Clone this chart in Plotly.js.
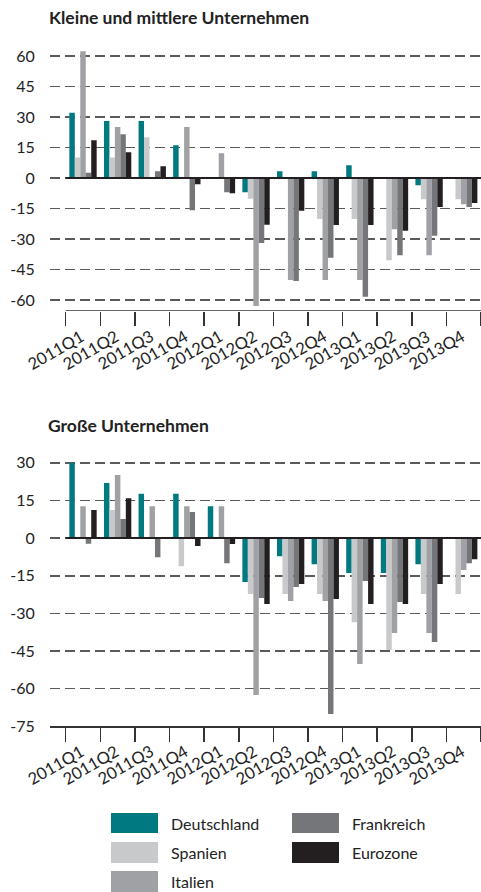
<!DOCTYPE html>
<html>
<head>
<meta charset="utf-8">
<script src="https://cdn.plot.ly/plotly-3.0.1.min.js"></script>
<style>html,body{margin:0;padding:0;background:#fff;}#chart{width:481px;height:892px;}</style>
</head>
<body>
<div id="chart"></div>
<script>
// ---- data ----
var quarters = ['2011Q1','2011Q2','2011Q3','2011Q4','2012Q1','2012Q2','2012Q3','2012Q4','2013Q1','2013Q2','2013Q3','2013Q4'];
var seriesNames = ['Deutschland','Spanien','Italien','Frankreich','Eurozone'];

// Kleine und mittlere Unternehmen
var kmuDeutschland = [32, 28, 28, 16, 0, -7, 3.3, 3.3, 6.2, 0, -3.6, 0];
var kmuSpanien     = [10, 10, 20, 0, 0, -10.3, 0, -20.2, -20.2, -40.5, -10.5, -10.5];
var kmuItalien     = [62.3, 25, 0, 25, 12.1, -63, -50.2, -50.2, -50.2, -25.2, -38, -13];
var kmuFrankreich  = [2.5, 21.5, 3.3, -15.9, -7, -32, -50.7, -39.3, -58.5, -38, -28.5, -14.3];
var kmuEurozone    = [18.5, 12.6, 5.7, -3.1, -7.5, -23, -16.2, -23.1, -23.1, -26, -14.3, -12.3];

// Große Unternehmen
var guDeutschland = [30, 21.9, 17.7, 17.7, 12.7, -17.5, -7.2, -10.4, -13.9, -13.9, -10.4, 0];
var guSpanien     = [0, 11.2, 0, -11.2, 0, -22.3, -22.3, -22.3, -33.5, -44.6, -22.3, -22.3];
var guItalien     = [12.7, 25.1, 12.7, 12.7, 12.7, -62.5, -25.1, -25.1, -50.2, -37.8, -37.8, -12.7];
var guFrankreich  = [-2.3, 7.6, -7.6, 10.4, -10, -23.9, -19.5, -70.1, -17.1, -25.5, -41.4, -10];
var guEurozone    = [11.2, 15.9, 0, -3.2, -2.4, -26.3, -18.3, -24.3, -26.3, -26.3, -18.3, -8.4];

// tick labels
var kmuTickVals = [60, 45, 30, 15, 0, -15, -30, -45, -60];
var kmuTickText = ['60', '45', '30', '15', '0', '-15', '-30', '-45', '-60'];
var guTickVals = [30, 15, 0, -15, -30, -45, -60, -75];
var guTickText = ['30', '15', '0', '-15', '-30', '-45', '-60', '-75'];

var titles = ['Kleine und mittlere Unternehmen', 'Große Unternehmen'];

// ---- styles ----
var colors = ['#007a80', '#c8c9cb', '#a0a1a4', '#757679', '#231f20'];
var FONT = 'Lato, "Open Sans", sans-serif';
var W = 481, H = 892, ML = 50;
function px2x(px) { return (px - ML) / (W - ML); }
function py2y(py) { return 1 - py / H; }

var kmuData = [kmuDeutschland, kmuSpanien, kmuItalien, kmuFrankreich, kmuEurozone];
var guData = [guDeutschland, guSpanien, guItalien, guFrankreich, guEurozone];

var traces = [];
seriesNames.forEach(function (name, i) {
  traces.push({ type: 'bar', name: name, x: quarters, y: kmuData[i], xaxis: 'x', yaxis: 'y',
    marker: { color: colors[i], line: { width: 0 } }, hoverinfo: 'x+y+name' });
});
seriesNames.forEach(function (name, i) {
  traces.push({ type: 'bar', name: name, x: quarters, y: guData[i], xaxis: 'x2', yaxis: 'y2',
    marker: { color: colors[i], line: { width: 0 } }, hoverinfo: 'x+y+name' });
});

var xRange = [-0.954, 11.5];
var kmuRange = [-65.3, 62.9];
var guRange = [-75, 31.9];

function xAxis(anchor, showline) {
  return {
    type: 'category', anchor: anchor, domain: [0, 1], range: xRange, categoryorder: 'array', categoryarray: quarters,
    showgrid: false, zeroline: false, showline: showline, linecolor: '#333', linewidth: 1.5,
    ticks: 'outside', ticklen: 14, tickwidth: 1.5, tickcolor: '#333', tickson: 'boundaries',
    showticklabels: false, fixedrange: true
  };
}
function yAxis(domain, range, vals, text) {
  return {
    domain: domain, range: range, tickmode: 'array', tickvals: vals, ticktext: text,
    showgrid: true, gridcolor: '#5a5a5a', gridwidth: 1.6, griddash: '10px,5px',
    zeroline: false, showline: false, ticks: 'outside', ticklen: 11, tickcolor: 'rgba(0,0,0,0)',
    tickfont: { family: FONT, size: 16, color: '#222' }, fixedrange: true
  };
}

var shapes = [
  // zero lines
  { type: 'line', xref: 'x', yref: 'y', x0: -0.5, x1: 11.5, y0: 0, y1: 0, line: { color: '#231f20', width: 2 }, layer: 'above' },
  { type: 'line', xref: 'x2', yref: 'y2', x0: -0.5, x1: 11.5, y0: 0, y1: 0, line: { color: '#231f20', width: 2 }, layer: 'above' },
  // bottom axis line of first panel
  { type: 'line', xref: 'x', yref: 'y', x0: -0.5, x1: 11.5, y0: kmuRange[0], y1: kmuRange[0], line: { color: '#333', width: 1.5 }, layer: 'above' }
];

var annotations = [
  { text: '<b>' + titles[0] + '</b>', xref: 'paper', yref: 'paper', x: px2x(47), y: py2y(17), xanchor: 'left', yanchor: 'middle',
    showarrow: false, font: { family: FONT, size: 17.5, color: '#222' } },
  { text: '<b>' + titles[1] + '</b>', xref: 'paper', yref: 'paper', x: px2x(46), y: py2y(426), xanchor: 'left', yanchor: 'middle',
    showarrow: false, font: { family: FONT, size: 17.5, color: '#222' } }
];

// rotated category labels under each panel
[['x', 323], ['x2', 738]].forEach(function (ax) {
  quarters.forEach(function (q) {
    annotations.push({ text: q, xref: ax[0], yref: 'paper', x: q, y: py2y(ax[1]), xanchor: 'right', yanchor: 'top',
      xshift: 7, textangle: -30, showarrow: false, font: { family: FONT, size: 16.5, color: '#222' } });
  });
});

// manual legend (two columns)
var legendPos = [
  { sx: 111, tx: 169, y0: 813, y1: 833 },
  { sx: 111, tx: 169, y0: 842, y1: 863 },
  { sx: 111, tx: 169, y0: 871, y1: 892 },
  { sx: 292, tx: 350, y0: 813, y1: 833 },
  { sx: 292, tx: 350, y0: 842, y1: 863 }
];
var legendOrder = [0, 1, 2, 3, 4];
legendOrder.forEach(function (si, k) {
  var p = legendPos[k];
  shapes.push({ type: 'rect', xref: 'paper', yref: 'paper', x0: px2x(p.sx), x1: px2x(p.sx + 47),
    y0: py2y(p.y1), y1: py2y(p.y0), fillcolor: colors[si], line: { width: 0 } });
  annotations.push({ text: seriesNames[si], xref: 'paper', yref: 'paper', x: px2x(p.tx), y: py2y((p.y0 + p.y1) / 2),
    xanchor: 'left', yanchor: 'middle', showarrow: false, font: { family: FONT, size: 16, color: '#222' } });
});

var layout = {
  width: W, height: H,
  margin: { l: ML, r: 0, t: 0, b: 0, pad: 0 },
  paper_bgcolor: '#fff', plot_bgcolor: '#fff',
  barmode: 'group', bargap: 0.21, bargroupgap: 0,
  showlegend: false,
  xaxis: xAxis('y', false),
  yaxis: yAxis([py2y(310.7), py2y(50)], kmuRange, kmuTickVals, kmuTickText),
  xaxis2: xAxis('y2', true),
  yaxis2: yAxis([py2y(726.3), py2y(458)], guRange, guTickVals, guTickText),
  shapes: shapes,
  annotations: annotations
};

Plotly.newPlot('chart', traces, layout, { displayModeBar: false, staticPlot: true });
</script>
</body>
</html>
